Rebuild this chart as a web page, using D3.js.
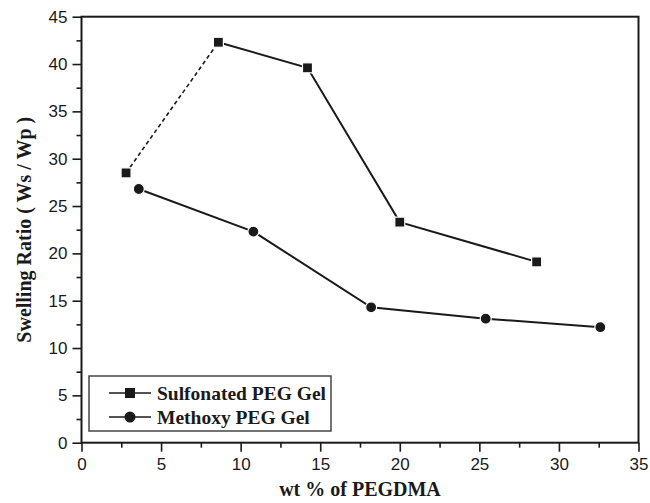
<!DOCTYPE html>
<html>
<head>
<meta charset="utf-8">
<script src="https://cdn.jsdelivr.net/npm/d3@7"></script>
<style>
  body { margin: 0; background: #fff; }
  svg { display: block; }
</style>
</head>
<body>
<div id="chart"></div>
<script>
// values
const sulfonatedX = [2.8, 8.6, 14.2, 20.0, 28.6]
const sulfonatedY = [28.5, 42.3, 39.6, 23.3, 19.1]
const methoxyX = [3.6, 10.8, 18.2, 25.4, 32.6]
const methoxyY = [26.8, 22.3, 14.3, 13.1, 12.2]
const seriesNames = ["Sulfonated PEG Gel", "Methoxy PEG Gel"]
const xTicks = [0, 5, 10, 15, 20, 25, 30, 35]
const yTicks = [0, 5, 10, 15, 20, 25, 30, 35, 40, 45]

const width = 650, height = 503
const margin = {top: 16.7, right: 11.5, bottom: 60.3, left: 81.5}
const ink = "#1a1a1a"
const sans = "'Liberation Sans', Arial, sans-serif"
const serif = "'Liberation Serif', 'Times New Roman', serif"

const x = d3.scaleLinear().domain([0, 35]).range([margin.left, width - margin.right])
const y = d3.scaleLinear().domain([0, 45]).range([height - margin.bottom, margin.top])

const svg = d3.select("#chart").append("svg")
    .attr("width", width)
    .attr("height", height)

const sulfonated = sulfonatedX.map((v, i) => ({x: v, y: sulfonatedY[i]}))
const methoxy = methoxyX.map((v, i) => ({x: v, y: methoxyY[i]}))

// axes, major + minor ticks pointing outward
const minor = (lo, hi) => d3.range(lo + 2.5, hi, 5)

const xAxis = svg.append("g")
    .attr("transform", `translate(0,${y(0)})`)
xAxis.append("g")
    .call(d3.axisBottom(x).tickValues(minor(0, 35)).tickSize(5).tickFormat(""))
xAxis.append("g")
    .call(d3.axisBottom(x).tickValues(xTicks).tickSize(9).tickPadding(6))
xAxis.selectAll("text")
    .attr("font-family", sans)
    .attr("font-size", 17)
    .attr("fill", ink)

const yAxis = svg.append("g")
    .attr("transform", `translate(${x(0)},0)`)
yAxis.append("g")
    .call(d3.axisLeft(y).tickValues(minor(0, 45)).tickSize(5).tickFormat(""))
yAxis.append("g")
    .call(d3.axisLeft(y).tickValues(yTicks).tickSize(9).tickPadding(5))
yAxis.selectAll("text")
    .attr("font-family", sans)
    .attr("font-size", 17)
    .attr("fill", ink)

svg.selectAll(".domain").remove()
svg.selectAll(".tick line")
    .attr("stroke", ink)
    .attr("stroke-width", 1.6)

// frame
svg.append("rect")
    .attr("x", x(0))
    .attr("y", y(45))
    .attr("width", x(35) - x(0))
    .attr("height", y(0) - y(45))
    .attr("fill", "none")
    .attr("stroke", ink)
    .attr("stroke-width", 2)

// axis titles
svg.append("text")
    .attr("x", (x(0) + x(35)) / 2)
    .attr("y", 496)
    .attr("text-anchor", "middle")
    .attr("font-family", serif)
    .attr("font-weight", "bold")
    .attr("font-size", 20)
    .attr("fill", ink)
    .text("wt % of PEGDMA")

svg.append("text")
    .attr("transform", `translate(31,${(y(0) + y(45)) / 2}) rotate(-90)`)
    .attr("text-anchor", "middle")
    .attr("font-family", serif)
    .attr("font-weight", "bold")
    .attr("font-size", 20)
    .attr("fill", ink)
    .text("Swelling Ratio ( Ws / Wp )")

const line = d3.line().x(d => x(d.x)).y(d => y(d.y))

// first sulfonated segment is dashed in the original
svg.append("path")
    .attr("d", line(sulfonated.slice(0, 2)))
    .attr("fill", "none")
    .attr("stroke", ink)
    .attr("stroke-width", 1.6)
    .attr("stroke-dasharray", "4,3")
svg.append("path")
    .attr("d", line(sulfonated.slice(1)))
    .attr("fill", "none")
    .attr("stroke", ink)
    .attr("stroke-width", 2)
svg.append("path")
    .attr("d", line(methoxy))
    .attr("fill", "none")
    .attr("stroke", ink)
    .attr("stroke-width", 2)

const sq = 10
svg.append("g")
  .selectAll("rect")
  .data(sulfonated)
  .join("rect")
    .attr("x", d => x(d.x) - sq / 2)
    .attr("y", d => y(d.y) - sq / 2)
    .attr("width", sq)
    .attr("height", sq)
    .attr("fill", ink)
    .attr("stroke", "#fff")
    .attr("stroke-width", 1.2)

svg.append("g")
  .selectAll("circle")
  .data(methoxy)
  .join("circle")
    .attr("cx", d => x(d.x))
    .attr("cy", d => y(d.y))
    .attr("r", 5.5)
    .attr("fill", ink)
    .attr("stroke", "#fff")
    .attr("stroke-width", 1.2)

// legend
const legend = svg.append("g")
legend.append("rect")
    .attr("x", 89)
    .attr("y", 376)
    .attr("width", 242)
    .attr("height", 55)
    .attr("fill", "#fff")
    .attr("stroke", "#444")
    .attr("stroke-width", 1.5)

const rows = legend.selectAll("g")
  .data(seriesNames)
  .join("g")
    .attr("transform", (d, i) => `translate(0,${393 + i * 24})`)

rows.append("line")
    .attr("x1", 109)
    .attr("x2", 151)
    .attr("stroke", ink)
    .attr("stroke-width", 1.6)

rows.filter((d, i) => i === 0).append("rect")
    .attr("x", 130 - sq / 2)
    .attr("y", -sq / 2)
    .attr("width", sq)
    .attr("height", sq)
    .attr("fill", ink)

rows.filter((d, i) => i === 1).append("circle")
    .attr("cx", 130)
    .attr("r", 5.5)
    .attr("fill", ink)

rows.append("text")
    .attr("x", 157)
    .attr("y", 6.5)
    .attr("font-family", serif)
    .attr("font-weight", "bold")
    .attr("font-size", 19.5)
    .attr("fill", ink)
    .text(d => d)
</script>
</body>
</html>
